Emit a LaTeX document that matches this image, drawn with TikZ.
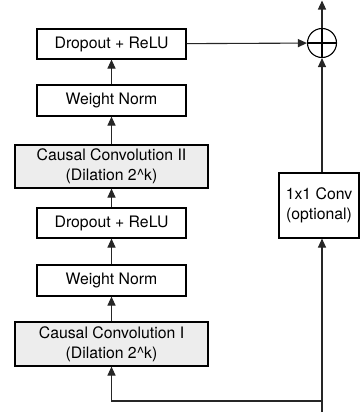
\documentclass[tikz,border=0pt]{standalone}
\usepackage{fontspec}
\setmainfont{TeX Gyre Heros}
\usepackage{tikz}
\usetikzlibrary{arrows.meta}

\begin{document}
\begin{tikzpicture}[x=1pt, y=-1pt, line width=1.1pt,
    box/.style={draw=black, inner sep=0pt, minimum width=149pt, align=center,
                font=\fontsize{15.8}{20}\selectfont},
    convbox/.style={box, fill=black!7, minimum width=193pt},
    arr/.style={-{Triangle[length=9pt,width=8pt]}, draw=black!85}]
    \useasboundingbox (0,0) rectangle (360,415);
    \node[box, minimum height=30pt] (drop2) at (111.5, 44) {Dropout + ReLU};
    \node[box, minimum height=31pt] (wn2) at (111.5, 100.5) {Weight Norm};
    \node[convbox, minimum height=43pt] (cc2) at (111.5, 166.5) {Causal Convolution II\\(Dilation 2\^{}k)};
    \node[box, minimum height=30pt] (drop1) at (111.5, 223) {Dropout + ReLU};
    \node[box, minimum height=31pt] (wn1) at (111.5, 280.5) {Weight Norm};
    \node[convbox, minimum height=44pt] (cc1) at (111.5, 344) {Causal Convolution I\\(Dilation 2\^{}k)};
    \node[box, minimum width=80pt, minimum height=65pt] (conv) at (319, 205.5) {1x1 Conv\\(optional)};
    \node[draw=black, circle, minimum size=29pt, inner sep=0pt] (sum) at (322, 43) {};
    \draw (sum.north) -- (sum.south);
    \draw (sum.west) -- (sum.east);
    \coordinate (in) at (322, 412);
    \coordinate (split) at (322, 401);
    \coordinate (out) at (322, 0.5);
    \draw [arr] (split) -| (cc1.south);
    \draw [arr] (cc1) to (wn1);
    \draw [arr] (wn1) to (drop1);
    \draw [arr] (drop1) to (cc2);
    \draw [arr] (cc2) to (wn2);
    \draw [arr] (wn2) to (drop2);
    \draw [arr] (drop2) to (sum);
    \draw [arr] (in) to (conv.south -| in);
    \draw [arr] (conv.north -| in) to (sum);
    \draw [arr] (sum) to (out);
  \end{tikzpicture}
\end{document}
